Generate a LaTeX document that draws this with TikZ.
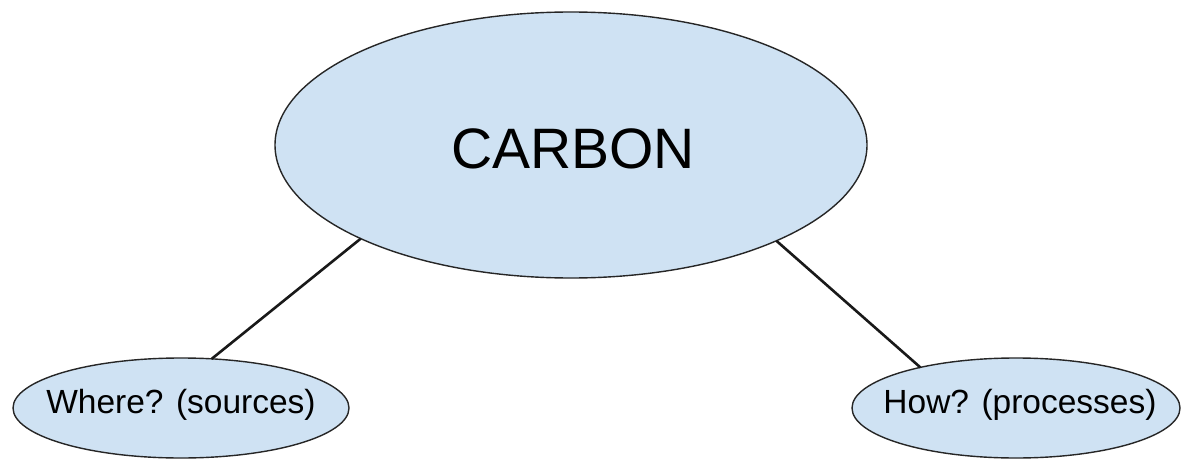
\documentclass[tikz,border=0pt]{standalone}
\usepackage{fontspec}
\setmainfont{Liberation Sans}
\usetikzlibrary{shapes.geometric}
\definecolor{bubble}{HTML}{CFE2F3}
\begin{document}
\begin{tikzpicture}[x=1pt,y=-1pt,
  bub/.style={ellipse,draw=black!85,line width=1.4pt,fill=bubble,inner sep=0pt,outer sep=0pt},
  lbl/.style={inner sep=0pt,anchor=base,text=black},
  conn/.style={line width=2.6pt,black!90}]
\useasboundingbox (0,0) rectangle (1181,460);
\fill[white] (0,0) rectangle (1181,460);
\node[bub,minimum width=592pt,minimum height=266pt] (carbon) at (571,145) {};
\node[bub,minimum width=336pt,minimum height=100pt] (where) at (181,408) {};
\node[bub,minimum width=328pt,minimum height=100pt] (how) at (1016,408) {};
\node[lbl,font=\fontsize{57}{68}\selectfont] (carbontxt) at (573,168) {CARBON};
\node[lbl,font=\fontsize{33.5}{40}\selectfont] (wheretxt) at (181,413) {Where? (sources)};
\node[lbl,font=\fontsize{33.5}{40}\selectfont] (howtxt) at (1020,413) {How? (processes)};
\draw[conn] (carbon.204.4) -- (where.58.2);
\draw[conn] (carbon.335.9) -- (how.157.4);
\end{tikzpicture}
\end{document}
